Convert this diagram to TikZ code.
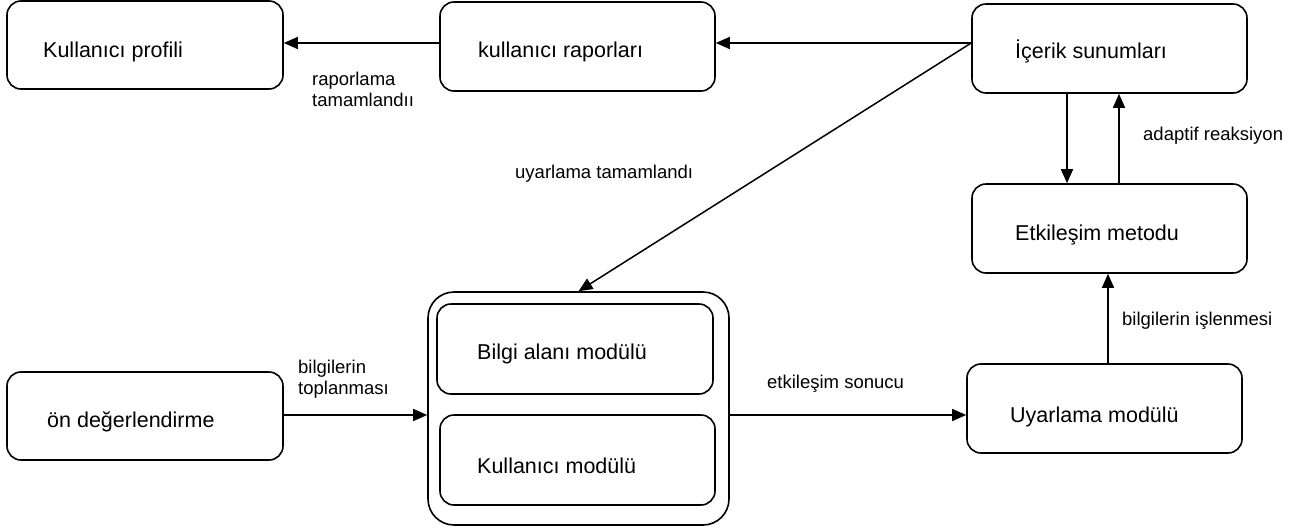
\documentclass[tikz,border=0pt]{standalone}
\usepackage{fontspec}
\setmainfont{Liberation Sans}
\usetikzlibrary{arrows.meta}
\newcommand{\boxfnt}{\fontsize{21.5}{25}\selectfont}
\newcommand{\lblfnt}{\fontsize{18.5}{21}\selectfont}
\tikzset{
  box/.style={draw, line width=1.6pt, rounded corners=14pt, inner sep=0pt},
  outerbox/.style={draw, line width=1.6pt, rounded corners=26pt, inner sep=0pt},
  arr/.style={-{Triangle[length=14pt,width=12pt]}, line width=1.5pt},
  txt/.style={font=\boxfnt, inner sep=0pt, anchor=base west},
  lbl/.style={font=\lblfnt, inner sep=0pt, anchor=base west},
  lbltwo/.style={font=\lblfnt, inner sep=0pt, anchor=north west, align=left}
}
\begin{document}
\begin{tikzpicture}[x=1pt,y=-1pt]
\useasboundingbox (0,0) rectangle (1296,528);
% boxes
\node[box, minimum width=276pt, minimum height=88pt] (kp) at (145,45) {};
\node[box, minimum width=275pt, minimum height=89pt] (kr) at (577.5,46.5) {};
\node[box, minimum width=275pt, minimum height=89pt] (ic) at (1109.5,48.5) {};
\node[box, minimum width=275pt, minimum height=89pt] (em) at (1109.5,228.5) {};
\node[box, minimum width=275pt, minimum height=89pt] (um) at (1104.5,408.5) {};
\node[box, minimum width=276pt, minimum height=88pt] (on) at (145,416) {};
\node[outerbox, minimum width=301pt, minimum height=233pt] (ct) at (578.5,408.5) {};
\node[box, minimum width=276pt, minimum height=90pt] (bi) at (575,349) {};
\node[box, minimum width=275pt, minimum height=90pt] (ku) at (577.5,460) {};
% box texts
\node[txt] (kpt) at (43,57) {Kullanıcı profili};
\node[txt] (krt) at (478,57) {kullanıcı raporları};
\node[txt] (ict) at (1015,58) {İçerik sunumları};
\node[txt] (emt) at (1015,240) {Etkileşim metodu};
\node[txt] (umt) at (1010,422) {Uyarlama modülü};
\node[txt] (ont) at (47,427) {ön değerlendirme};
\node[txt] (bit) at (477,359) {Bilgi alanı modülü};
\node[txt] (kut) at (477,473) {Kullanıcı modülü};
% connectors
\draw[arr] ([yshift=3.5pt]kr.west) -- ([yshift=2pt]kp.east);
\draw[arr] ([yshift=5.5pt]ic.west) -- ([yshift=3.5pt]kr.east);
\draw[arr] ([yshift=5.5pt]ic.west) -- (ct.north);
\draw[arr] ([xshift=-42.5pt]ic.south) -- ([xshift=-42.5pt]em.north);
\draw[arr] ([xshift=9.5pt]em.north) -- ([xshift=9.5pt]ic.south);
\draw[arr] ([xshift=3.5pt]um.north) -- ([xshift=-1.5pt]em.south);
\draw[arr] ([yshift=1pt]on.east) -- ([yshift=-6.5pt]ct.west);
\draw[arr] ([yshift=-6.5pt]ct.east) -- ([yshift=-6.5pt]um.west);
% labels
\node[lbltwo] (l1) at (312,71.8) {raporlama\\tamamlandıı};
\node[lbltwo] (l2) at (298,359.8) {bilgilerin\\toplanması};
\node[lbl] (l3) at (1143,140) {adaptif reaksiyon};
\node[lbl] (l4) at (1122,325) {bilgilerin işlenmesi};
\node[lbl] (l5) at (767,388) {etkileşim sonucu};
\node[lbl] (l6) at (515,178) {uyarlama tamamlandı};
\end{tikzpicture}
\end{document}
